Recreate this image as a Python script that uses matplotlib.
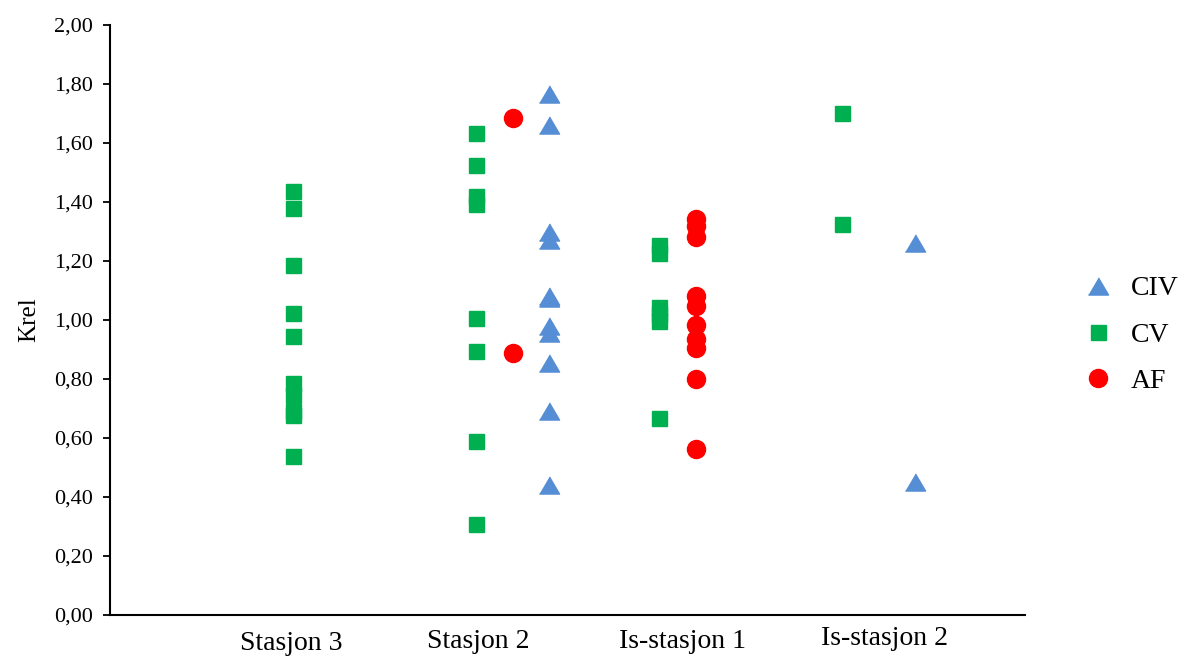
import matplotlib
matplotlib.use("Agg")
import matplotlib.pyplot as plt
from matplotlib.ticker import FuncFormatter, MultipleLocator

plt.rcParams['font.family'] = ['Liberation Serif', 'DejaVu Serif']

categories = ["Stasjon 3", "Stasjon 2", "Is-stasjon 1", "Is-stasjon 2"]
label_pos = [0.99, 2.01, 3.13, 4.23]

# CV (green squares)
cv_x = [1]*10 + [2]*8 + [3]*6 + [4]*2
cv_y = [1.438, 1.378, 1.185, 1.024, 0.947, 0.788, 0.746, 0.690, 0.678, 0.539,
        1.634, 1.525, 1.421, 1.393, 1.006, 0.895, 0.589, 0.308,
        1.255, 1.228, 1.045, 1.020, 0.998, 0.668,
        1.703, 1.324]

# AF (red circles)
af_x = [2.2]*2 + [3.2]*10
af_y = [1.685, 0.888,
        1.342, 1.320, 1.282, 1.081, 1.047, 0.984, 0.935, 0.904, 0.800, 0.562]

# CIV (blue triangles)
civ_x = [2.4]*11 + [4.4]*2
civ_y = [1.766, 1.661, 1.297, 1.272, 1.083, 1.075, 0.981, 0.955, 0.853, 0.693, 0.440,
         1.260, 0.452]

fig = plt.figure(figsize=(11.92, 6.56), dpi=100)
ax = fig.add_axes([110/1192, 41/656, (1025-110)/1192, 590/656])

tri = [(-1, -0.85), (1, -0.85), (0, 0.85)]
h_civ, = ax.plot(civ_x, civ_y, linestyle='none', marker=tri, ms=14.5,
                 color='#558ED5', mec='#558ED5', label='CIV')
h_cv, = ax.plot(cv_x, cv_y, linestyle='none', marker='s', ms=10.8,
                color='#00B050', mec='#00B050', label='CV')
h_af, = ax.plot(af_x, af_y, linestyle='none', marker='o', ms=13,
                color='#FF0000', mec='#FF0000', label='AF')

ax.set_xlim(0, 5)
ax.set_ylim(0, 2.0)
ax.yaxis.set_major_locator(MultipleLocator(0.2))
ax.yaxis.set_major_formatter(FuncFormatter(lambda v, p: f"{v:.2f}".replace('.', ',')))
ax.set_xticks([])
for s in ['top', 'right']:
    ax.spines[s].set_visible(False)
for s in ['left', 'bottom']:
    ax.spines[s].set_linewidth(1.5)
    ax.spines[s].set_color('black')
ax.tick_params(axis='y', length=5, width=1.3, labelsize=16, pad=7)
ax.set_ylabel("Krel", fontsize=18, labelpad=10)

label_y = [-0.095, -0.09, -0.09, -0.08]
for pos, ly, lab in zip(label_pos, label_y, categories):
    ax.text(pos, ly, lab, ha='center', va='center', fontsize=20, clip_on=False)

fig.legend(handles=[h_civ, h_cv, h_af], labels=['CIV', 'CV', 'AF'],
           loc='center left', bbox_to_anchor=(1060/1192, 1 - 335/656),
           frameon=False, fontsize=20, handletextpad=0.75, labelspacing=0.75,
           handlelength=0.9)

fig.savefig("out.png", dpi=100)
